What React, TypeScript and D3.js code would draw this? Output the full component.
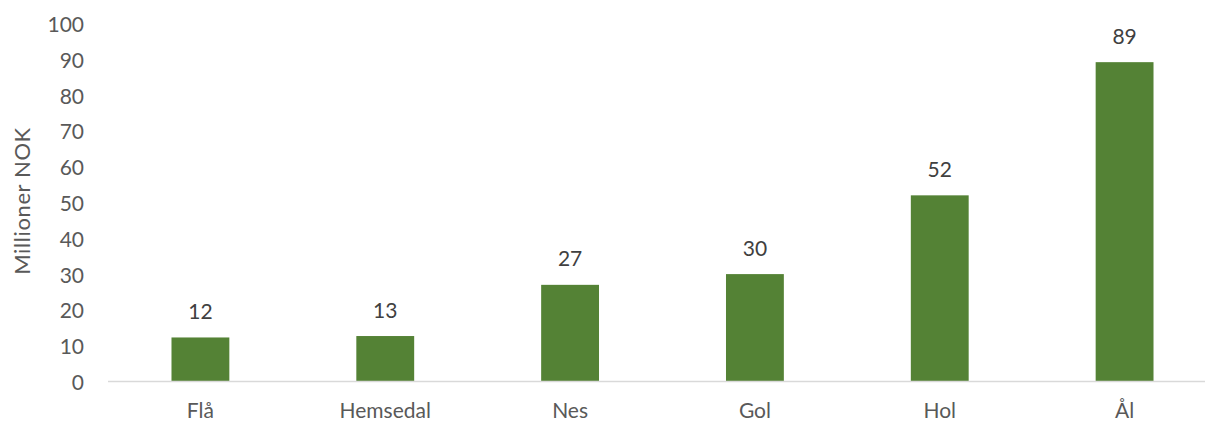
import React from "react";
import * as d3 from "d3";

const categories = ["Flå", "Hemsedal", "Nes", "Gol", "Hol", "Ål"];
const values = [12.3, 12.7, 27, 30, 52, 89.2];
const yTicks = [0, 10, 20, 30, 40, 50, 60, 70, 80, 90, 100];
const yTitle = "Millioner NOK";

const W = 1205;
const H = 423;

export default function App() {
  const x = d3
    .scaleBand<string>()
    .domain(categories)
    .range([108, 1217])
    .paddingInner(0.687)
    .paddingOuter(0.3435);
  const y = d3.scaleLinear().domain([0, 100]).range([381.5, 23.5]);
  const font = "Lato, 'Open Sans', sans-serif";
  return (
    <svg
      width={W}
      height={H}
      style={{ position: "absolute", left: 0, top: 0, background: "#fff" }}
    >
      {yTicks.map((t) => (
        <text
          key={t}
          x={84}
          y={y(t)}
          textAnchor="end"
          dominantBaseline="central"
          fontFamily={font}
          fontSize={21}
          fill="#595959"
        >
          {t}
        </text>
      ))}
      <text
        transform={`translate(21,201) rotate(-90)`}
        textAnchor="middle"
        dominantBaseline="central"
        fontFamily={font}
        fontSize={22}
        letterSpacing={0.6}
        fill="#595959"
      >
        {yTitle}
      </text>
      {categories.map((c, i) => (
        <rect
          key={c}
          x={x(c)}
          y={y(values[i])}
          width={x.bandwidth()}
          height={y(0) - y(values[i])}
          fill="#548235"
        />
      ))}
      <line x1={108} x2={W} y1={y(0)} y2={y(0)} stroke="#d9d9d9" strokeWidth={1.5} />
      {categories.map((c, i) => (
        <text
          key={c}
          x={(x(c) as number) + x.bandwidth() / 2}
          y={y(values[i]) - 18.5}
          textAnchor="middle"
          fontFamily={font}
          fontSize={21}
          fill="#404040"
        >
          {Math.round(values[i])}
        </text>
      ))}
      {categories.map((c) => (
        <text
          key={c}
          x={(x(c) as number) + x.bandwidth() / 2}
          y={418}
          textAnchor="middle"
          fontFamily={font}
          fontSize={21}
          fill="#595959"
        >
          {c}
        </text>
      ))}
    </svg>
  );
}
